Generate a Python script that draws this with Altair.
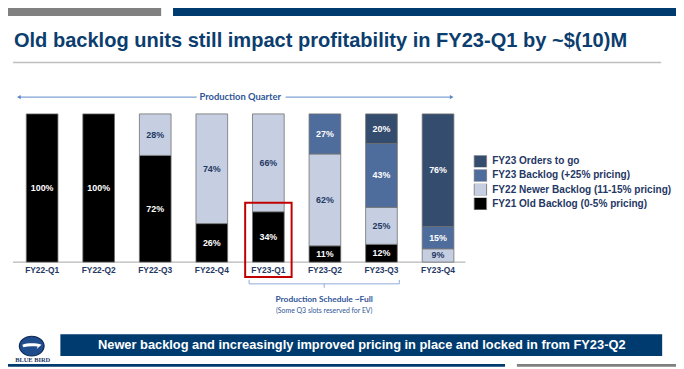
import altair as alt
import pandas as pd

# ---------------- data ----------------
quarters = ["FY22-Q1", "FY22-Q2", "FY22-Q3", "FY22-Q4",
            "FY23-Q1", "FY23-Q2", "FY23-Q3", "FY23-Q4"]
series = ["FY23 Orders to go", "FY23 Backlog (+25% pricing)",
          "FY22 Newer Backlog (11-15% pricing)", "FY21 Old Backlog (0-5% pricing)"]
old_backlog = [100, 100, 72, 26, 34, 11, 12, 0]
newer_backlog = [0, 0, 28, 74, 66, 62, 25, 9]
fy23_backlog = [0, 0, 0, 0, 0, 27, 43, 15]
orders_to_go = [0, 0, 0, 0, 0, 0, 20, 76]
colors = ["#344C6E", "#4E6D9C", "#C5CFE1", "#000000"]

title_text = "Old backlog units still impact profitability in FY23-Q1 by ~$(10)M"
axis_title = "Production Quarter"
brace_title = "Production Schedule ~Full"
brace_note = "(Some Q3 slots reserved for EV)"
banner_text = "Newer backlog and increasingly improved pricing in place and locked in from FY23-Q2"
logo_text = "BLUE BIRD"

NAVY = "#0B3D6E"
TXT = "#1F3864"
MID = "#2F5597"
LINE = "#5B87C9"

# ---------------- long table ----------------
rows = []
stack_vals = [old_backlog, newer_backlog, fy23_backlog, orders_to_go]
stack_names = [series[3], series[2], series[1], series[0]]
for qi, q in enumerate(quarters):
    base = 0
    for si, (vals, name) in enumerate(zip(stack_vals, stack_names)):
        v = vals[qi]
        if v > 0:
            rows.append({"quarter": q, "series": name, "order": si, "v": v,
                         "y0": base, "y1": base + v, "mid": base + v / 2,
                         "label": f"{v}%", "dark": name == series[2]})
        base += v
df = pd.DataFrame(rows)

W, H = 676, 361
P = lambda v: v - 8  # page px -> plot px

xs = alt.Scale(domain=quarters, range=[P(13.9), P(471.8)], paddingInner=0.44, paddingOuter=0.22)
ys = alt.Scale(domain=[0, 100], range=[P(263), P(113)])

bars = alt.Chart(df).mark_bar(stroke="#707070", strokeWidth=0.8).encode(
    x=alt.X("quarter:N", scale=xs, axis=None, sort=quarters),
    y=alt.Y("y0:Q", scale=ys, axis=None),
    y2="y1:Q",
    color=alt.Color("series:N", scale=alt.Scale(domain=series, range=colors),
                    legend=alt.Legend(title=None, orient="none", legendX=P(479), legendY=P(155),
                                      symbolType="square", symbolSize=160,
                                      symbolStrokeColor="#7F7F7F", symbolStrokeWidth=1,
                                      symbolOpacity=1, clipHeight=12,
                                      labelFont="Liberation Sans", labelFontWeight="bold",
                                      labelFontSize=10.2, labelColor=TXT, labelLimit=300,
                                      labelOffset=5, rowPadding=2.3, padding=0)),
)

lab_dark = alt.Chart(df[df["dark"]]).mark_text(
    font="Liberation Sans", fontWeight="bold", fontSize=9, color=TXT).encode(
    x=alt.X("quarter:N", scale=xs, sort=quarters), y=alt.Y("mid:Q", scale=ys), text="label:N")
lab_light = alt.Chart(df[~df["dark"]]).mark_text(
    font="Liberation Sans", fontWeight="bold", fontSize=9, color="white").encode(
    x=alt.X("quarter:N", scale=xs, sort=quarters), y=alt.Y("mid:Q", scale=ys), text="label:N")

cat_df = pd.DataFrame({"quarter": quarters})
cat_labels = alt.Chart(cat_df).mark_text(
    font="Liberation Sans", fontWeight="bold", fontSize=8.5, color=TXT).encode(
    x=alt.X("quarter:N", scale=xs, sort=quarters), y=alt.value(P(271)), text="quarter:N")

one = pd.DataFrame({"a": [0]})


def rect(x1, x2, y1, y2, **kw):
    return alt.Chart(one).mark_rect(**kw).encode(
        x=alt.value(P(x1)), x2=alt.value(P(x2)), y=alt.value(P(y1)), y2=alt.value(P(y2)))


def hrule(x1, x2, y, **kw):
    return alt.Chart(one).mark_rule(**kw).encode(
        x=alt.value(P(x1)), x2=alt.value(P(x2)), y=alt.value(P(y)))


def vrule(x, y1, y2, **kw):
    return alt.Chart(one).mark_rule(**kw).encode(
        x=alt.value(P(x)), y=alt.value(P(y1)), y2=alt.value(P(y2)))


def text(s, x, y, **kw):
    return alt.Chart(pd.DataFrame({"t": [s]})).mark_text(**kw).encode(
        x=alt.value(P(x)), y=alt.value(P(y)), text="t:N")


def point(x, y, **kw):
    return alt.Chart(one).mark_point(**kw).encode(x=alt.value(P(x)), y=alt.value(P(y)))


ELLIPSE = ("M-1.25,0 C-1.25,-0.552 -0.69,-1 0,-1 C0.69,-1 1.25,-0.552 1.25,0 "
           "C1.25,0.552 0.69,1 0,1 C-0.69,1 -1.25,0.552 -1.25,0 Z")
SWOOSH = ("M-0.95,-0.15 C-0.4,-0.32 0.4,-0.32 1.0,-0.15 L0.5,0.28 L0.6,0.05 "
          "C0.1,0.0 -0.4,0.0 -0.85,0.12 Z")

layers = [
    # top banner
    rect(0, 163, 0, 14, color="#808080"),
    rect(175, 684, 0, 14, color="#003B70"),
    # title + rule
    text(title_text, 14, 45, font="Liberation Sans", fontWeight="bold", fontSize=20.3,
         color=NAVY, align="left", baseline="alphabetic"),
    hrule(13, 669, 61, color="#BFBFBF", strokeWidth=1.5),
    # production quarter arrow
    hrule(19, 199, 96, color=LINE, strokeWidth=1),
    hrule(289, 456, 96, color=LINE, strokeWidth=1),
    point(19, 96, shape="triangle-left", size=18, filled=True, color=LINE, opacity=1),
    point(457, 96, shape="triangle-right", size=18, filled=True, color=LINE, opacity=1),
    text(axis_title, 243, 96, font="Lato", fontWeight="bold", fontSize=9.5, color=MID,
         align="center", baseline="middle"),
    # axis baseline
    hrule(13, 471, 263, color="#A6A6A6", strokeWidth=1),
    bars, lab_dark, lab_light, cat_labels,
    # red highlight box
    rect(248, 295, 203, 278, fill=None, filled=False, stroke="#C00000", strokeWidth=2),
    # brace
    hrule(252, 404, 285, color="#8FAADC", strokeWidth=1),
    vrule(252, 281, 285, color="#8FAADC", strokeWidth=1),
    vrule(404, 281, 285, color="#8FAADC", strokeWidth=1),
    vrule(328, 285, 289, color="#8FAADC", strokeWidth=1),
    text(brace_title, 328, 300, font="Lato", fontWeight="bold", fontSize=8.5, color=MID,
         align="center", baseline="middle"),
    text(brace_note, 328, 312, font="Lato", fontSize=7, color=MID,
         align="center", baseline="middle"),
    # bottom banner
    rect(61, 670, 336, 358, color="#003B70"),
    text(banner_text, 366, 347, font="Liberation Sans", fontWeight="bold", fontSize=13,
         color="white", align="center", baseline="middle"),
    # logo
    point(32, 348, shape=ELLIPSE, size=400, filled=True, color="#1F4C8C",
          stroke="#0E2A57", strokeWidth=1.2, opacity=1),
    point(32, 348, shape=SWOOSH, size=400, filled=True, color="white", opacity=1),
    text(logo_text, 33, 362.5, font="Liberation Serif", fontWeight="bold", fontSize=6.5,
         color=TXT, align="center", baseline="middle"),
    # bottom strip
    rect(0, 511, 366, 369, color="#003B70"),
    rect(523, 684, 366, 369, color="#808080"),
]

chart = alt.layer(*layers).properties(
    width=W, height=H, padding=0,
    autosize=alt.AutoSizeParams(type="none"),
).configure_view(stroke=None)

chart.save("out.html", embed_options={"renderer": "svg", "actions": False})
